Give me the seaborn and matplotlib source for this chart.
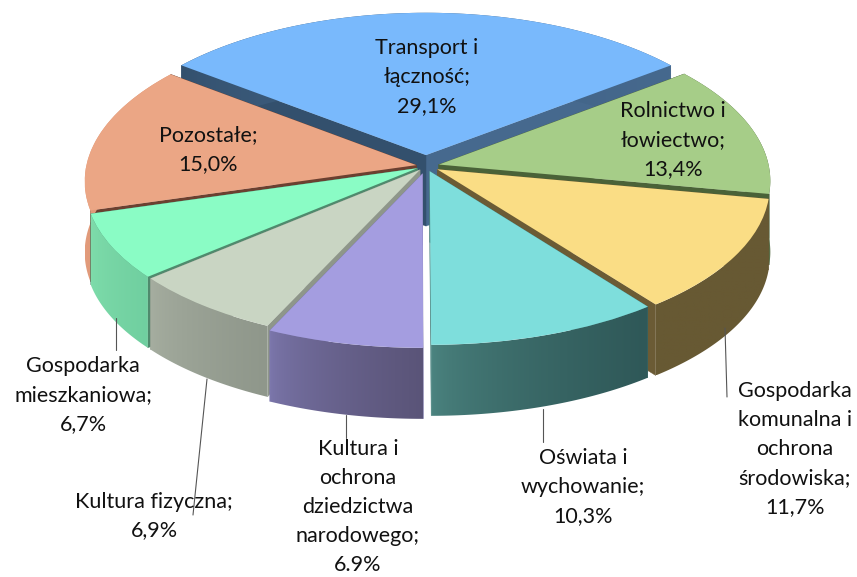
import math
import numpy as np
import matplotlib
matplotlib.use('Agg')
import matplotlib.pyplot as plt
from matplotlib.colors import to_rgb
from matplotlib.patches import Polygon
from matplotlib.transforms import Transform
import seaborn as sns

# values, counterclockwise from the right edge of the blue slice
names = ['Transport', 'Pozostale', 'Mieszkaniowa', 'Fizyczna', 'Kultura', 'Oswiata', 'Komunalna', 'Rolnictwo']
shares = [29.1, 15.0, 6.7, 6.9, 6.9, 10.3, 11.7, 13.4]

label_texts = ['Transport i\nłączność;\n29,1%',
               'Pozostałe;\n15,0%',
               'Gospodarka\nmieszkaniowa;\n6,7%',
               'Kultura fizyczna;\n6,9%',
               'Kultura i\nochrona\ndziedzictwa\nnarodowego;\n6.9%',
               'Oświata i\nwychowanie;\n10,3%',
               'Gospodarka\nkomunalna i\nochrona\nśrodowiska;\n11,7%',
               'Rolnictwo i\nłowiectwo;\n13,4%']

# layout, in pixels of the picture
W, H = 857, 577
label_pos = [(427, 77), (208, 150), (83, 395), (154, 516), (358, 507), (583, 487), (795, 449), (673, 140)]
leaders = [((116, 318), (116, 350)), ((207, 379), (193, 515)), ((346, 415), (346, 438)),
           ((543, 409), (543, 442)), ((725, 328), (727, 397))]
explode = [0.07, 0.03, 0.03, 0.03, 0.05, 0.035, 0.04, 0.04]
cx, cy = 426, 166
scale_x, scale_y = 330, 157
persp_x, persp_y = 0.1, 0.09
depth = 71 / scale_y

top_colors = ['#79B9FC', '#EBA685', '#8AFCC5', '#C9D5C3', '#A49DE0', '#7EDEDC', '#FADD85', '#A6CD88']
wall_left = ['#33506D', '#E39C7C', '#7FDDAB', '#A7AFA1', '#7C77AC', '#4C8581', '#675933', '#4A6238']
wall_right = ['#46698E', '#D99273', '#70CFA0', '#8F978B', '#5A5478', '#2F5858', '#675933', '#4A6238']
radial_1 = ['#46698E', '#6B4030', '#4F8A6D', '#8E968A', '#7C77AC', '#4C8581', '#6B5B35', '#4A6238']
radial_2 = ['#33506D', '#6B4030', '#4F8A6D', '#8E968A', '#7C77AC', '#4C8581', '#6B5B35', '#4A6238']


class Tilt(Transform):
    input_dims = 2
    output_dims = 2

    def transform_non_affine(self, values):
        values = np.asarray(values, dtype=float)
        x, y = values[:, 0], values[:, 1]
        return np.column_stack([x / (1 + persp_x * y), y / (1 + persp_y * y)])


def draw_walls(ax, wedge, left, right, rad1, rad2, z):
    tilt = Tilt()
    c = np.array(wedge.center)
    t1, t2 = wedge.theta1, wedge.theta2

    def rim(t):
        return c + np.array([math.cos(math.radians(t)), math.sin(math.radians(t))])

    # flat cut faces first, the outer face goes over them
    for t, col in [(t1, rad1), (t2, rad2)]:
        pts = tilt.transform(np.array([c, rim(t)]))
        poly = np.vstack([pts, pts[::-1] - [0, depth]])
        ax.fill(poly[:, 0], poly[:, 1], color=col, lw=0.3, zorder=z)

    arc = tilt.transform(np.array([rim(t) for t in np.linspace(t1, t2, 81)]))
    poly = np.vstack([arc, arc[::-1] - [0, depth]])
    f = np.linspace(0, 1, 128) ** 0.6
    lc, rc = np.array(to_rgb(left)), np.array(to_rgb(right))
    grad = (lc + (rc - lc) * f[:, None])[None, :, :]
    im = ax.imshow(grad, aspect='auto', zorder=z, interpolation='bilinear',
                   extent=[poly[:, 0].min(), poly[:, 0].max(), poly[:, 1].min(), poly[:, 1].max()])
    im.set_clip_path(Polygon(poly, transform=ax.transData))


sns.set_theme(style='white')
plt.rcParams['font.family'] = ['Lato', 'DejaVu Sans']

fig = plt.figure(figsize=(W / 100, H / 100), dpi=100)
ax = fig.add_axes([0, 0, 1, 1])
wedges, _ = ax.pie(shares, explode=explode, startangle=37.6, counterclock=True,
                   colors=sns.color_palette(top_colors), wedgeprops={'linewidth': 0})

# back slices first so the front ones cover them
mids = [math.sin(math.radians((w.theta1 + w.theta2) / 2)) for w in wedges]
order = np.argsort(mids)[::-1]
for rank, i in enumerate(order):
    draw_walls(ax, wedges[i], wall_left[i], wall_right[i], radial_1[i], radial_2[i], 2 + 2 * rank)
    wedges[i].set_transform(Tilt() + ax.transData)
    wedges[i].set_zorder(3 + 2 * rank)

ax.set_aspect('auto')
ax.set_xlim(-cx / scale_x, (W - cx) / scale_x)
ax.set_ylim((cy - H) / scale_y, cy / scale_y)

for start, end in leaders:
    ax.plot([start[0] / W, end[0] / W], [1 - start[1] / H, 1 - end[1] / H], color='#555555', lw=0.8,
            transform=ax.transAxes, zorder=40)

for text, pos in zip(label_texts, label_pos):
    ax.text(pos[0] / W, 1 - pos[1] / H, text, transform=ax.transAxes, ha='center', va='center',
            fontsize=15.5, color='#111111', linespacing=1.56, zorder=50)

fig.savefig('out.png', dpi=100)
